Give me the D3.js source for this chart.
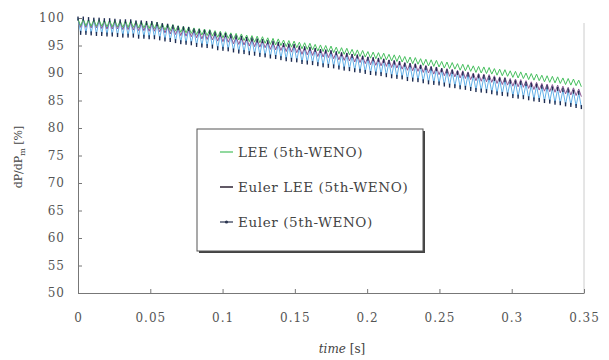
<!DOCTYPE html>
<html>
<head>
<meta charset="utf-8">
<script src="https://cdn.jsdelivr.net/npm/d3@7"></script>
<style>
  body { margin: 0; background: #fff; }
  svg { display: block; }
  .tick text { fill: #555; letter-spacing: 1px; }
  .tick line, .domain { stroke: #777; }
</style>
</head>
<body>
<svg id="chart" width="609" height="360"></svg>
<script>
// one oscillation cycle per entry (peak then trough)
const tMax = 0.35;
const nCycles = 96;

const leePeaks = [99.8,99.8,99.7,99.7,99.7,99.6,99.6,99.6,99.5,99.5,99.5,99.4,99.4,99.3,99.3,
  99.2,99.0,98.9,98.8,98.6,98.5,98.4,98.2,98.1,98.0,97.9,97.7,97.6,97.5,97.3,97.2,97.1,96.9,96.8,96.7,96.6,96.4,96.3,96.2,96.0,
  95.9,95.8,95.6,95.5,95.4,95.2,95.1,95.0,94.9,94.7,94.6,94.5,94.3,94.2,94.1,93.9,93.8,93.7,93.6,93.4,93.3,93.2,93.0,92.9,92.8,
  92.6,92.5,92.4,92.3,92.1,92.0,91.9,91.7,91.6,91.5,91.3,91.2,91.1,91.0,90.8,90.7,90.6,90.4,90.3,90.2,90.0,89.9,89.8,89.6,89.5,
  89.4,89.3,89.1,89.0,88.9,88.7];
const leeTroughs = [98.6,98.6,98.5,98.5,98.5,98.4,98.4,98.4,98.3,98.3,98.3,98.2,98.2,98.1,98.1,
  98.0,97.8,97.7,97.6,97.4,97.3,97.2,97.0,96.9,96.8,96.7,96.5,96.4,96.3,96.1,96.0,95.9,95.7,95.6,95.5,95.4,95.2,95.1,95.0,94.8,
  94.7,94.6,94.4,94.3,94.2,94.0,93.9,93.8,93.7,93.5,93.4,93.3,93.1,93.0,92.9,92.7,92.6,92.5,92.4,92.2,92.1,92.0,91.8,91.7,91.6,
  91.4,91.3,91.2,91.1,90.9,90.8,90.7,90.5,90.4,90.3,90.1,90.0,89.9,89.8,89.6,89.5,89.4,89.2,89.1,89.0,88.8,88.7,88.6,88.4,88.3,
  88.2,88.1,87.9,87.8,87.7,87.5];

const eulerLeePeaks = [99.7,99.7,99.6,99.6,99.5,99.4,99.4,99.4,99.3,99.3,
  99.2,99.1,99.1,99.0,99.0,98.9,98.7,98.5,98.4,98.2,
  98.1,98.0,97.8,97.6,97.5,97.4,97.2,97.1,97.0,96.7,
  96.6,96.5,96.3,96.2,96.1,96.0,95.7,95.6,95.5,95.3,
  95.2,95.1,94.8,94.7,94.6,94.4,94.3,94.2,94.0,93.8,
  93.7,93.6,93.4,93.3,93.1,92.9,92.8,92.7,92.6,92.4,
  92.3,92.1,91.9,91.8,91.7,91.5,91.4,91.2,91.1,90.9,
  90.8,90.7,90.5,90.4,90.2,90.0,89.9,89.8,89.7,89.5,
  89.3,89.2,89.0,88.9,88.8,88.6,88.4,88.3,88.1,88.0,
  87.9,87.8,87.6,87.4,87.3,87.1];
const eulerLeeTroughs = [98.3,98.3,98.2,98.2,98.1,98.0,98.0,98.0,97.9,97.9,
  97.8,97.7,97.7,97.6,97.6,97.5,97.3,97.1,97.0,96.8,
  96.7,96.6,96.4,96.2,96.1,96.0,95.8,95.7,95.6,95.3,
  95.2,95.1,94.9,94.8,94.7,94.6,94.3,94.2,94.1,93.9,
  93.8,93.7,93.4,93.3,93.2,93.0,92.9,92.8,92.6,92.4,
  92.3,92.2,92.0,91.9,91.7,91.5,91.4,91.3,91.2,91.0,
  90.9,90.7,90.5,90.4,90.3,90.1,90.0,89.8,89.7,89.5,
  89.4,89.3,89.1,89.0,88.8,88.6,88.5,88.4,88.3,88.1,
  87.9,87.8,87.6,87.5,87.4,87.2,87.0,86.9,86.7,86.6,
  86.5,86.4,86.2,86.0,85.9,85.7];

const eulerPeaks = [99.9,99.9,99.8,99.7,99.7,99.6,99.6,99.5,99.4,99.4,
  99.4,99.2,99.2,99.1,99.1,98.9,98.7,98.6,98.4,98.2,
  98.1,98.0,97.7,97.6,97.5,97.4,97.1,97.0,96.9,96.7,
  96.5,96.4,96.2,96.1,95.9,95.8,95.6,95.5,95.3,95.1,
  95.0,94.9,94.6,94.5,94.4,94.2,94.0,93.9,93.8,93.6,
  93.4,93.3,93.1,93.0,92.8,92.6,92.5,92.4,92.2,92.0,
  91.9,91.8,91.5,91.4,91.3,91.1,90.9,90.8,90.7,90.5,
  90.3,90.2,90.0,89.9,89.7,89.5,89.4,89.3,89.1,88.9,
  88.8,88.7,88.4,88.3,88.2,88.0,87.8,87.7,87.5,87.4,
  87.2,87.1,86.9,86.8,86.6,86.4];
const eulerTroughs = [97.3,97.3,97.2,97.1,97.1,97.0,97.0,96.9,96.8,96.8,
  96.8,96.6,96.6,96.5,96.5,96.3,96.1,96.0,95.8,95.6,
  95.5,95.4,95.1,95.0,94.9,94.8,94.5,94.4,94.3,94.1,
  93.9,93.8,93.6,93.5,93.3,93.2,93.0,92.9,92.7,92.5,
  92.4,92.3,92.0,91.9,91.8,91.6,91.4,91.3,91.2,91.0,
  90.8,90.7,90.5,90.4,90.2,90.0,89.9,89.8,89.6,89.4,
  89.3,89.2,88.9,88.8,88.7,88.5,88.3,88.2,88.1,87.9,
  87.7,87.6,87.4,87.3,87.1,86.9,86.8,86.7,86.5,86.3,
  86.2,86.1,85.8,85.7,85.6,85.4,85.2,85.1,84.9,84.8,
  84.6,84.5,84.3,84.2,84.0,83.8];

const xTicks = [0, 0.05, 0.1, 0.15, 0.2, 0.25, 0.3, 0.35];
const yTicks = [50, 55, 60, 65, 70, 75, 80, 85, 90, 95, 100];
const legendLabels = ["LEE (5th-WENO)", "Euler LEE (5th-WENO)", "Euler (5th-WENO)"];

const serif = "DejaVu Serif";
const svg = d3.select("#chart");
const x = d3.scaleLinear().domain([0, tMax]).range([78, 584]);
const y = d3.scaleLinear().domain([50, 100]).range([293, 18]);
const period = tMax / nCycles;

function zigzag(peaks, troughs) {
    return peaks.flatMap((p, i) => [[i * period, p], [i * period + period / 2, troughs[i]]]);
}

// faint right border of plot area
svg.append("line")
    .attr("x1", x(tMax)).attr("x2", x(tMax))
    .attr("y1", 23).attr("y2", y(50))
    .attr("stroke", "#ccc");

svg.append("g")
    .attr("transform", `translate(${x(0)},0)`)
    .call(d3.axisLeft(y).tickValues(yTicks).tickSize(-4).tickSizeOuter(0).tickPadding(13))
    .call(g => g.attr("font-family", serif).attr("font-size", 12));

svg.append("g")
    .attr("transform", `translate(0,${y(50)})`)
    .call(d3.axisBottom(x).tickValues(xTicks).tickFormat(d => d3.format("")(d)).tickSize(-4).tickSizeOuter(0).tickPadding(20))
    .call(g => g.attr("font-family", serif).attr("font-size", 12));

const line = d3.line().x(d => x(d[0])).y(d => y(d[1]));

const eulerPts = zigzag(eulerPeaks, eulerTroughs);
svg.append("path").datum(eulerPts)
    .attr("d", line).attr("fill", "none")
    .attr("stroke", "#62b0e8").attr("stroke-width", 1);
svg.append("path").datum(zigzag(eulerLeePeaks, eulerLeeTroughs))
    .attr("d", line).attr("fill", "none")
    .attr("stroke", "#8a5a96").attr("stroke-width", 1);
svg.append("path").datum(zigzag(leePeaks, leeTroughs))
    .attr("d", line).attr("fill", "none")
    .attr("stroke", "#48c060").attr("stroke-width", 1);
svg.append("g").selectAll("rect").data(eulerPts).join("rect")
    .attr("x", d => x(d[0]) - 0.7).attr("y", d => y(d[1]) - 2)
    .attr("width", 1.4).attr("height", 4)
    .attr("fill", "#1f2d52");

// legend
const lg = svg.append("g");
lg.append("rect").attr("x", 199).attr("y", 131).attr("width", 226).attr("height", 122).attr("fill", "#444");
lg.append("rect").attr("x", 197).attr("y", 129).attr("width", 226).attr("height", 122)
    .attr("fill", "#fff").attr("stroke", "#555");
const rows = [
    {color: "#48c060", width: 1.2, dot: false},
    {color: "#3a3040", width: 1.6, dot: false},
    {color: "#2a3550", width: 1.2, dot: true}
];
legendLabels.forEach((lab, i) => {
    const yy = 152 + i * 35;
    lg.append("line").attr("x1", 220).attr("x2", 233).attr("y1", yy).attr("y2", yy)
        .attr("stroke", rows[i].color).attr("stroke-width", rows[i].width);
    if (rows[i].dot)
        lg.append("circle").attr("cx", 226.5).attr("cy", yy).attr("r", 1.6).attr("fill", rows[i].color);
    lg.append("text").attr("x", 238).attr("y", yy + 5)
        .attr("font-family", serif).attr("font-size", 13.5).attr("letter-spacing", 0.6)
        .attr("fill", "#444").text(lab);
});

// axis titles
svg.append("text")
    .attr("x", 342).attr("y", 353).attr("text-anchor", "middle")
    .attr("font-family", serif).attr("font-size", 12).attr("fill", "#444")
    .call(t => {
        t.append("tspan").attr("font-style", "italic").text("time");
        t.append("tspan").text(" [s]");
    });

svg.append("text")
    .attr("transform", "translate(22,157) rotate(-90)").attr("text-anchor", "middle")
    .attr("font-family", serif).attr("font-size", 11).attr("fill", "#444")
    .call(t => {
        t.append("tspan").text("dP/dP");
        t.append("tspan").attr("font-size", 8).attr("dy", 3).text("m");
        t.append("tspan").attr("dy", -3).text(" [%]");
    });
</script>
</body>
</html>
